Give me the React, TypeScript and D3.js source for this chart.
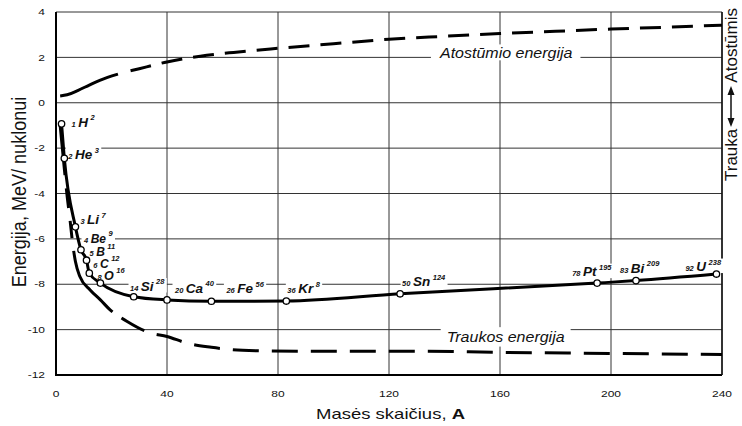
import React, { useEffect, useRef } from 'react';
import * as d3 from 'd3';

const W = 742;
const H = 426;
const FONT = '"Liberation Sans", Arial, Helvetica, sans-serif';

// nuclides marked on the binding energy curve
const isotopeSymbols = ['H', 'He', 'Li', 'Be', 'B', 'C', 'O', 'Si', 'Ca', 'Fe', 'Kr', 'Sn', 'Pt', 'Bi', 'U'];
const atomicNumbers = [1, 2, 3, 4, 5, 6, 8, 14, 20, 26, 36, 50, 78, 83, 92];
const massLabels = ['2', '3', '7', '9', '11', '12', '16', '28', '40', '56', '8', '124', '195', '209', '238'];
const massNumbers = [2, 3, 7, 9, 11, 12, 16, 28, 40, 56, 83, 124, 195, 209, 238];
const bindingEnergy = [-0.93, -2.45, -5.47, -6.48, -6.94, -7.51, -7.95, -8.55, -8.69, -8.75, -8.74, -8.42, -7.95, -7.84, -7.55];

// repulsion energy (dashed, top)
const repulsionMass = [1.5, 4, 8, 12, 16, 22, 30, 40, 52, 64, 80, 100, 120, 140, 160, 180, 200, 220, 240];
const repulsionEnergy = [0.3, 0.35, 0.55, 0.78, 1.0, 1.25, 1.5, 1.8, 2.05, 2.22, 2.4, 2.6, 2.8, 2.93, 3.05, 3.15, 3.25, 3.33, 3.42];

// attraction energy (dashed, bottom)
const attractionMass = [1.5, 3, 4, 5, 6, 7, 8.6, 12.3, 16, 19.5, 25.5, 34, 40, 47, 56, 63, 73, 90, 110, 130, 160, 200, 240];
const attractionEnergy = [-1.0, -2.9, -4.1, -5.1, -6.2, -7.0, -7.66, -8.25, -8.69, -9.13, -9.63, -10.15, -10.3, -10.59, -10.78, -10.88, -10.93, -10.95, -10.95, -10.95, -11.0, -11.05, -11.1];

const xTicks = [0, 40, 80, 120, 160, 200, 240];
const yTicks = [4, 2, 0, -2, -4, -6, -8, -10, -12];

// where each nuclide label sits relative to its point
const labelOffsets: [number, number][] = [
  [10, 3], [4, 1], [5, -2.5], [3, -7], [3, -4.4], [4, -5.5], [-3, -3.5], [-3.7, -6.2],
  [8, -7], [15, -8], [1, -8], [2, -7.5], [-25, -7], [-16, -8], [-31, -3],
];
// the tightly stacked light-nuclide labels are set a little smaller
const labelSizes = [13.5, 13.5, 13.5, 12, 12, 12, 12.5, 13.5, 13.5, 13.5, 13.5, 13.5, 13.5, 13.5, 13.5];

function dashes(head: number[], dash: number, gap: number) {
  const out = head.slice();
  for (let i = 0; i < 60; i++) out.push(dash, gap);
  return out.join(' ');
}

export default function App() {
  const ref = useRef<SVGSVGElement>(null);

  useEffect(() => {
    const svg = d3.select(ref.current);
    svg.selectAll('*').remove();

    const x = d3.scaleLinear().domain([0, 240]).range([56, 722]);
    const y = d3.scaleLinear().domain([-12, 4]).range([375, 12]);

    svg.append('rect').attr('width', W).attr('height', H).attr('fill', '#fff');

    // grid
    const grid = svg.append('g').attr('stroke', '#333').attr('stroke-width', 1);
    yTicks.forEach(v => {
      grid.append('line').attr('x1', x(0)).attr('x2', x(240)).attr('y1', y(v)).attr('y2', y(v));
    });
    xTicks.forEach(v => {
      grid.append('line').attr('x1', x(v)).attr('x2', x(v)).attr('y1', y(4)).attr('y2', y(-12));
    });
    // frame
    svg.append('line').attr('x1', x(0)).attr('x2', x(0)).attr('y1', y(4)).attr('y2', y(-12) + 1)
      .attr('stroke', '#000').attr('stroke-width', 2);
    svg.append('line').attr('x1', x(0) - 1).attr('x2', x(240)).attr('y1', y(-12)).attr('y2', y(-12))
      .attr('stroke', '#000').attr('stroke-width', 2);
    svg.append('line').attr('x1', x(240)).attr('x2', x(240)).attr('y1', y(4)).attr('y2', y(-12))
      .attr('stroke', '#111').attr('stroke-width', 1.5);

    const bgLayer = svg.append('g');
    const textLayer = svg.append('g');

    const squashed = (px: number, py: number, sy: number, rot = 0, layer: any = svg) =>
      layer.append('g').attr('transform', `translate(${px},${py}) scale(1,${sy})${rot ? ` rotate(${rot})` : ''}`);

    // tick labels
    yTicks.forEach(v => {
      squashed(45, y(v) + 3.2, 0.75).append('text')
        .attr('text-anchor', 'end').attr('font-family', FONT).attr('font-size', 12).attr('fill', '#111')
        .text(v);
    });
    xTicks.forEach(v => {
      squashed(x(v), 397, 0.75).append('text')
        .attr('text-anchor', 'middle').attr('font-family', FONT).attr('font-size', 12).attr('fill', '#111')
        .text(v);
    });

    // axis titles
    squashed(25.5, 192, 0.86, -90).append('text')
      .attr('text-anchor', 'middle').attr('font-family', FONT).attr('font-size', 21).attr('fill', '#111')
      .text('Energija, MeV/ nuklonui');
    const xt = squashed(316, 419, 0.8).append('text')
      .attr('font-family', FONT).attr('font-size', 18.5).attr('fill', '#111');
    xt.append('tspan').text('Masės skaičius, ');
    xt.append('tspan').attr('font-weight', 'bold').text('A');

    // right side label
    svg.append('g').attr('transform', 'translate(737,8) rotate(-90)').append('text')
      .attr('text-anchor', 'end').attr('font-family', FONT).attr('font-size', 17).attr('fill', '#111')
      .text('Atostūmis');
    svg.append('g').attr('transform', 'translate(737,181) rotate(-90)').append('text')
      .attr('text-anchor', 'start').attr('font-family', FONT).attr('font-size', 17).attr('fill', '#111')
      .text('Trauka');
    svg.append('line').attr('x1', 731).attr('x2', 731).attr('y1', 92).attr('y2', 120)
      .attr('stroke', '#111').attr('stroke-width', 1.5);
    svg.append('path').attr('d', 'M731,86 L727.5,95 L734.5,95 Z M731,127 L727.5,118 L734.5,118 Z').attr('fill', '#111');

    // white backing under labels that breaks the grid (all backings sit below all label texts)
    const withBacking = (g: any, padX: number, padY: number) => {
      const b = (g.select('text').node() as SVGTextElement).getBBox();
      bgLayer.append('rect').attr('transform', g.attr('transform'))
        .attr('x', b.x - padX).attr('y', b.y - padY)
        .attr('width', b.width + 2 * padX).attr('height', b.height + 2 * padY).attr('fill', '#fff');
    };

    const atoLbl = squashed(440, 57.5, 0.88, 0, textLayer);
    atoLbl.append('text').attr('font-family', FONT).attr('font-style', 'italic').attr('font-size', 16)
      .attr('fill', '#111').text('Atostūmio energija');
    withBacking(atoLbl, 8, 0);

    const trLbl = squashed(446.7, 342, 0.88, 0, textLayer);
    trLbl.append('text').attr('font-family', FONT).attr('font-style', 'italic').attr('font-size', 16)
      .attr('fill', '#111').text('Traukos energija');
    withBacking(trLbl, 6, 2);

    isotopeSymbols.forEach((sym, i) => {
      const [dx, dy] = labelOffsets[i];
      const g = textLayer.append('g')
        .attr('transform', `translate(${x(massNumbers[i]) + dx},${y(bindingEnergy[i]) + dy})`);
      const t = g.append('text').attr('font-family', FONT).attr('font-weight', 'bold')
        .attr('font-style', 'italic').attr('fill', '#111');
      t.append('tspan').attr('font-size', 7.5).text(atomicNumbers[i]);
      t.append('tspan').attr('font-size', labelSizes[i]).attr('dx', 2.5).text(sym);
      t.append('tspan').attr('font-size', 7.5).attr('dx', 2.5).attr('dy', -6.5).text(massLabels[i]);
      withBacking(g, 1.5, -1);
    });

    // curves
    const line = d3.line<[number, number]>()
      .x(d => x(d[0])).y(d => y(d[1])).curve(d3.curveMonotoneX);

    svg.append('path')
      .attr('d', line(repulsionMass.map((m, i) => [m, repulsionEnergy[i]]))!)
      .attr('fill', 'none').attr('stroke', '#000').attr('stroke-width', 3)
      .attr('stroke-dasharray', dashes([62, 13], 21, 11));

    svg.append('path')
      .attr('d', line(attractionMass.map((m, i) => [m, attractionEnergy[i]]))!)
      .attr('fill', 'none').attr('stroke', '#000').attr('stroke-width', 3)
      .attr('stroke-dasharray', dashes([50, 13, 20, 13, 17, 13, 75, 11], 26, 13));

    const pts = massNumbers.map((m, i) => [m, bindingEnergy[i]] as [number, number]);
    svg.append('path').attr('d', line(pts)!)
      .attr('fill', 'none').attr('stroke', '#000').attr('stroke-width', 3);

    svg.append('g').selectAll('circle').data(pts).join('circle')
      .attr('cx', d => x(d[0])).attr('cy', d => y(d[1])).attr('r', 3.2)
      .attr('fill', '#fff').attr('stroke', '#000').attr('stroke-width', 1.3);
  }, []);

  return (
    <svg ref={ref} width={W} height={H}
      style={{ position: 'absolute', left: 0, top: 0, background: '#fff' }} />
  );
}
